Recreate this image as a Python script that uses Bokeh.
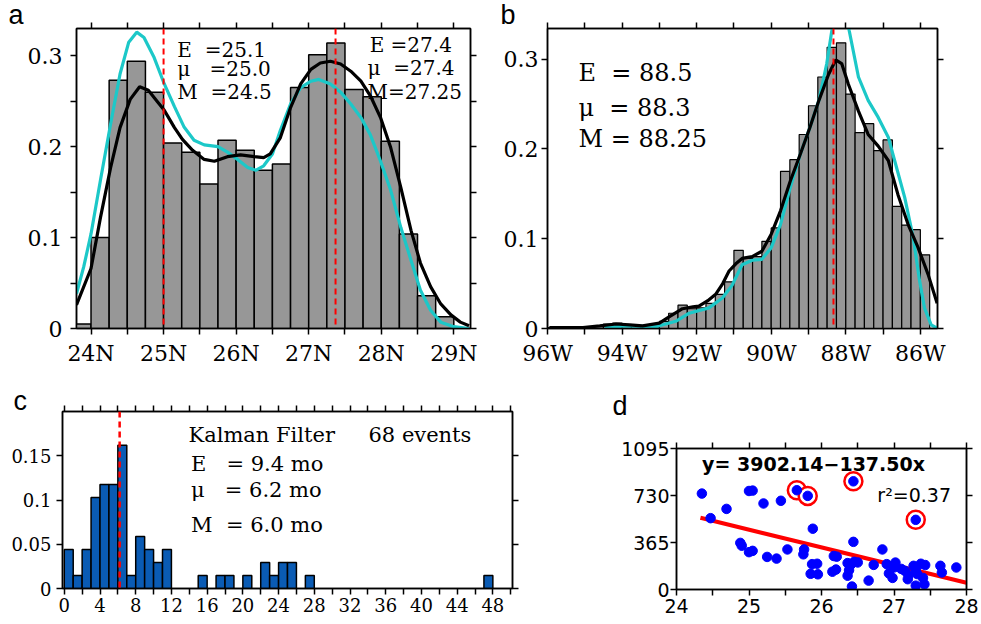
from bokeh.plotting import figure
from bokeh.models import (Range1d, FixedTicker, LinearAxis, Span, Label, Title,
                          NumeralTickFormatter, CustomJSTickFormatter)
from bokeh.layouts import column, row
from bokeh.embed import file_html
from bokeh.resources import INLINE

NB = "\u00a0"

# ---------------- data ----------------
# panel a: latitude histogram (bins of 0.25 deg starting at 23.75N)
a_bin_start = 23.75
a_bin_width = 0.25
a_heights = [0.005, 0.100, 0.273, 0.294, 0.260, 0.204, 0.194, 0.159, 0.207, 0.196,
             0.174, 0.181, 0.265, 0.301, 0.314, 0.263, 0.255, 0.206, 0.104, 0.036, 0.013]
a_black_x = [23.80, 24.00, 24.13, 24.27, 24.40, 24.54, 24.67, 24.79, 24.91, 25.01, 25.15,
             25.26, 25.40, 25.56, 25.70, 25.88, 26.06, 26.25, 26.38, 26.47, 26.61, 26.75,
             26.89, 27.03, 27.16, 27.30, 27.44, 27.58, 27.72, 27.85, 27.99, 28.13, 28.27,
             28.41, 28.54, 28.68, 28.82, 28.96, 29.09, 29.21]
a_black_y = [0.026, 0.066, 0.122, 0.177, 0.221, 0.252, 0.266, 0.262, 0.250, 0.240, 0.221,
             0.208, 0.196, 0.186, 0.184, 0.189, 0.191, 0.189, 0.188, 0.192, 0.210, 0.243,
             0.269, 0.285, 0.292, 0.294, 0.291, 0.283, 0.272, 0.256, 0.232, 0.199, 0.155,
             0.108, 0.072, 0.046, 0.027, 0.015, 0.007, 0.003]
a_cyan_x = [23.80, 23.90, 24.00, 24.13, 24.27, 24.40, 24.52, 24.63, 24.73, 24.87, 25.01,
            25.15, 25.28, 25.42, 25.56, 25.75, 25.88, 26.02, 26.16, 26.27, 26.38, 26.50,
            26.61, 26.75, 26.89, 27.03, 27.14, 27.30, 27.44, 27.58, 27.72, 27.85, 27.99,
            28.13, 28.27, 28.41, 28.54, 28.68, 28.82, 29.00, 29.21]
a_cyan_y = [0.038, 0.068, 0.104, 0.163, 0.225, 0.280, 0.315, 0.326, 0.320, 0.298, 0.269,
            0.244, 0.222, 0.207, 0.202, 0.200, 0.194, 0.186, 0.177, 0.174, 0.179, 0.192,
            0.218, 0.247, 0.265, 0.272, 0.274, 0.269, 0.260, 0.247, 0.232, 0.213, 0.184,
            0.152, 0.111, 0.075, 0.042, 0.020, 0.007, 0.002, 0.000]
a_means = [25.0, 27.37]
a_text_left = ["E" + NB * 2 + "=25.1", "μ" + NB * 3 + "=25.0", "M" + NB * 2 + "=24.5"]
a_text_right = ["E" + NB + "=27.4", "μ" + NB * 2 + "=27.4", "M=27.25"]

# panel b: longitude histogram (bins of 0.25 deg, from 96W eastwards)
b_bin_start = 96.0
b_bin_width = 0.25
b_heights = [0.001, 0.001, 0.001, 0.002, 0.002, 0.003, 0.005, 0.006, 0.004, 0.003,
             0.003, 0.004, 0.008, 0.017, 0.026, 0.022, 0.023, 0.028, 0.038, 0.052,
             0.087, 0.078, 0.080, 0.097, 0.112, 0.175, 0.188, 0.216, 0.248, 0.280,
             0.313, 0.318, 0.261, 0.218, 0.228, 0.198, 0.210, 0.136, 0.115, 0.110, 0.082]
b_black_x = [95.95, 95.05, 94.60, 94.16, 93.80, 93.45, 93.00, 92.74, 92.38, 92.10, 91.94,
             91.70, 91.49, 91.30, 91.13, 90.95, 90.78, 90.51, 90.25, 90.00, 89.75, 89.49,
             89.22, 88.96, 88.72, 88.46, 88.27, 88.11, 87.93, 87.66, 87.40, 87.13, 86.86,
             86.60, 86.33, 86.06, 85.79, 85.55]
b_black_y = [0.001, 0.001, 0.003, 0.005, 0.004, 0.003, 0.006, 0.013, 0.022, 0.024, 0.025,
             0.031, 0.038, 0.050, 0.064, 0.072, 0.078, 0.080, 0.086, 0.105, 0.131, 0.164,
             0.194, 0.224, 0.254, 0.283, 0.299, 0.295, 0.272, 0.242, 0.216, 0.203, 0.187,
             0.149, 0.116, 0.090, 0.060, 0.028]
b_cyan_x = [94.47, 93.90, 93.10, 92.56, 92.20, 91.67, 91.31, 91.05, 90.78, 90.51, 90.25,
            90.00, 89.75, 89.49, 89.22, 88.96, 88.72, 88.51, 88.38, 88.20, 88.05, 87.91,
            87.66, 87.40, 87.13, 86.86, 86.69, 86.42, 86.19, 86.02, 85.89, 85.71, 85.53]
b_cyan_y = [0.001, 0.003, 0.002, 0.008, 0.017, 0.023, 0.034, 0.048, 0.071, 0.076, 0.077,
            0.090, 0.116, 0.157, 0.194, 0.224, 0.254, 0.295, 0.330, 0.370, 0.370, 0.332,
            0.280, 0.254, 0.235, 0.213, 0.187, 0.146, 0.101, 0.053, 0.023, 0.004, 0.000]
b_mean = 88.33
b_text = ["E" + NB * 2 + "=" + NB + "88.5", "μ" + NB * 2 + "=" + NB + "88.3",
          "M" + NB + "=" + NB + "88.25"]

# panel c: Kalman filter event durations (months), 68 events
c_total = 68
c_bin_left = [0, 1, 2, 3, 4, 5, 6, 7, 8, 9, 10, 11, 15, 17, 18, 20, 22, 23, 24, 25, 27, 47]
c_counts = [3, 1, 3, 7, 8, 8, 11, 1, 4, 3, 2, 3, 1, 1, 1, 1, 2, 1, 2, 2, 1, 1]
c_mean = 6.2
c_title = ["Kalman Filter", "68 events"]
c_text = ["E" + NB * 3 + "=" + NB + "9.4 mo", "μ" + NB * 3 + "=" + NB + "6.2 mo",
          "M" + NB * 2 + "=" + NB + "6.0 mo"]

# panel d: scatter with regression
d_x = [24.35, 24.47, 24.69, 24.88, 24.90, 25.00, 25.05, 25.00, 25.05, 25.20, 25.25, 25.38,
       25.44, 25.53, 25.66, 25.81, 25.76, 25.75, 25.88, 25.87, 25.94, 25.85, 25.95, 26.17,
       26.21, 26.15, 26.20, 26.36, 26.40, 26.45, 26.50, 26.44, 26.44, 26.36, 26.42, 26.38,
       26.65, 26.72, 26.84, 26.90, 26.93, 26.98, 27.02, 27.00, 27.10, 27.15, 27.20, 27.19,
       27.27, 27.30, 27.30, 27.32, 27.30, 27.37, 27.43, 27.40, 27.42, 27.64, 27.66, 27.86]
d_y = [745, 554, 626, 362, 340, 765, 768, 290, 300, 668, 253, 240,
       689, 311, 771, 727, 311, 273, 472, 197, 200, 122, 118, 260,
       255, 138, 155, 205, 190, 215, 210, 840, 370, 107, 23, 150,
       69, 191, 311, 197, 125, 90, 209, 171, 160, 145, 110, 80,
       184, 541, 150, 120, 30, 200, 190, 90, 40, 184, 132, 171]
d_hi_x = [25.66, 25.81, 26.44, 27.30]
d_hi_y = [771, 727, 840, 541]
d_intercept = 3902.14
d_slope = -137.50
d_fit_x = [24.33, 28.0]
d_eq = "y=" + NB + "3902.14\u2212137.50x"
d_r2 = "r\u00b2=0.37"

SERIF = "DejaVu Serif"
SANS = "DejaVu Sans"
GRAY = "#979797"
CYAN = "#1CC8C8"
BLUE_BAR = "#0A5BB4"


def make_fig(w, h, xr, yr, left, right, top, bottom):
    p = figure(width=w, height=h, x_range=xr, y_range=yr, output_backend="svg",
               toolbar_location=None, min_border_left=left, min_border_right=right,
               min_border_top=top, min_border_bottom=bottom)
    p.xgrid.visible = False
    p.ygrid.visible = False
    p.outline_line_color = "black"
    p.outline_line_width = 1.5
    p.background_fill_color = "white"
    p.border_fill_color = "white"
    return p


def style_axis(ax, font, size, standoff):
    ax.axis_line_width = 1.5
    ax.axis_line_color = "black"
    ax.major_tick_out = 6
    ax.major_tick_in = 0
    ax.minor_tick_out = 6
    ax.minor_tick_in = 0
    ax.major_tick_line_width = 1.5
    ax.minor_tick_line_width = 1.5
    ax.major_tick_line_color = "black"
    ax.minor_tick_line_color = "black"
    ax.major_label_text_font = font
    ax.major_label_text_font_size = size
    ax.major_label_text_color = "black"
    ax.major_label_standoff = standoff


def set_axes(p, xt, xm, yt, ym, font, size, xstand, ystand, xfmt=None, yfmt=None):
    xa = p.xaxis[0]
    ya = p.yaxis[0]
    xa.ticker = FixedTicker(ticks=xt, minor_ticks=xm)
    ya.ticker = FixedTicker(ticks=yt, minor_ticks=ym)
    style_axis(xa, font, size, xstand)
    style_axis(ya, font, size, ystand)
    if xfmt is not None:
        xa.formatter = xfmt
    if yfmt is not None:
        ya.formatter = yfmt
    top = LinearAxis(ticker=FixedTicker(ticks=[], minor_ticks=xt + xm))
    style_axis(top, font, size, 0)
    p.add_layout(top, "above")
    rgt = LinearAxis(ticker=FixedTicker(ticks=[], minor_ticks=yt + ym))
    style_axis(rgt, font, size, 0)
    p.add_layout(rgt, "right")


def panel_label(p, text, offset, standoff):
    p.add_layout(Title(text=text, align="left", vertical_align="top", offset=offset,
                       standoff=standoff, text_font="Liberation Sans",
                       text_font_size="27px", text_font_style="normal",
                       text_color="black"), "above")


def add_text(p, x, y, text, font, size, bold=False, align="left"):
    p.add_layout(Label(x=x, y=y, text=text, text_font=font, text_font_size=size,
                       text_color="black", text_baseline="middle", text_align=align,
                       text_font_style="bold" if bold else "normal"))


# ---------------- panel a ----------------
pa = make_fig(500, 370, Range1d(23.8, 29.23), Range1d(0, 0.33), 76, 30, 28, 42)
a_left = [a_bin_start + i * a_bin_width for i in range(len(a_heights))]
a_right = [v + a_bin_width for v in a_left]
pa.quad(left=a_left, right=a_right, bottom=0, top=a_heights, fill_color=GRAY,
        line_color="black", line_width=1.5)
pa.line(a_cyan_x, a_cyan_y, line_color=CYAN, line_width=3.2)
pa.line(a_black_x, a_black_y, line_color="black", line_width=3.2)
for m in a_means:
    pa.add_layout(Span(location=m, dimension="height", line_color="red",
                       line_dash="6 4", line_width=2))
set_axes(pa, [24, 25, 26, 27, 28, 29], [24.5, 25.5, 26.5, 27.5, 28.5],
         [0, 0.1, 0.2, 0.3], [0.05, 0.15, 0.25], SERIF, "22px", 6, 8,
         xfmt=CustomJSTickFormatter(code="return tick.toFixed(0) + 'N';"),
         yfmt=NumeralTickFormatter(format="0.[00]"))
for t, y in zip(a_text_left, [0.306, 0.286, 0.260]):
    add_text(pa, 25.19, y, t, SERIF, "20px")
for t, x, y in zip(a_text_right, [27.84, 27.81, 27.81], [0.312, 0.287, 0.260]):
    add_text(pa, x, y, t, SERIF, "20px")
panel_label(pa, "a", -68, -19)

# ---------------- panel b ----------------
pb = make_fig(481, 370, Range1d(96.0, 85.54), Range1d(0, 0.334), 44, 44, 28, 42)
b_west = [b_bin_start - i * b_bin_width for i in range(len(b_heights))]
b_east = [v - b_bin_width for v in b_west]
pb.quad(left=b_west, right=b_east, bottom=0, top=b_heights, fill_color=GRAY,
        line_color="black", line_width=1.2)
pb.line(b_cyan_x, b_cyan_y, line_color=CYAN, line_width=3.2)
pb.line(b_black_x, b_black_y, line_color="black", line_width=3.2)
pb.add_layout(Span(location=b_mean, dimension="height", line_color="red",
                   line_dash="6 4", line_width=2))
set_axes(pb, [96, 94, 92, 90, 88, 86], [95, 93, 91, 89, 87],
         [0, 0.1, 0.2, 0.3], [], SERIF, "22px", 6, 3,
         xfmt=CustomJSTickFormatter(code="return tick.toFixed(0) + 'W';"),
         yfmt=NumeralTickFormatter(format="0.[00]"))
for t, y in zip(b_text, [0.284, 0.246, 0.211]):
    add_text(pb, 95.17, y, t, SERIF, "24px")
panel_label(pb, "b", -47, -19)

# ---------------- panel c ----------------
pc = make_fig(560, 254, Range1d(-0.2, 50.2), Range1d(0, 0.2), 62, 48, 41, 36)
c_right = [v + 1 for v in c_bin_left]
c_frac = [n / c_total for n in c_counts]
pc.quad(left=c_bin_left, right=c_right, bottom=0, top=c_frac, fill_color=BLUE_BAR,
        line_color="black", line_width=1.5)
pc.add_layout(Span(location=c_mean, dimension="height", line_color="red",
                   line_dash="6 4", line_width=2.5))
set_axes(pc, list(range(0, 49, 4)), list(range(2, 51, 4)),
         [0, 0.05, 0.1, 0.15], [], SERIF, "18px", 3, 5,
         yfmt=NumeralTickFormatter(format="0.[00]"))
add_text(pc, 13.91, 0.173, c_title[0], SERIF, "21px")
add_text(pc, 34.07, 0.173, c_title[1], SERIF, "21px")
for t, y in zip(c_text, [0.141, 0.111, 0.072]):
    add_text(pc, 14.2, y, t, SERIF, "21px")
panel_label(pc, "c", -49, -24)

# ---------------- panel d ----------------
pd_ = make_fig(421, 254, Range1d(24, 28), Range1d(0, 1095), 116, 15, 76, 35)
d_fit_y = [d_intercept + d_slope * x for x in d_fit_x]
pd_.line(d_fit_x, d_fit_y, line_color="red", line_width=4)
pd_.scatter(d_hi_x, d_hi_y, marker="circle", size=18, fill_color="white",
            line_color="red", line_width=2.5)
pd_.scatter(d_x, d_y, marker="circle", size=9.5, fill_color="blue", line_color="blue")
set_axes(pd_, [24, 25, 26, 27, 28], [24.5, 25.5, 26.5, 27.5],
         [0, 365, 730, 1095], [], SANS, "19px", 3, 1)
add_text(pd_, 25.89, 975, d_eq, SANS, "19px", bold=True, align="center")
add_text(pd_, 26.77, 733, d_r2, SANS, "19px")
panel_label(pd_, "d", -64, 40)

layout = column(row(pa, pb), row(column(pc), column(pd_)))
open("out.html", "w").write(file_html(layout, INLINE))
